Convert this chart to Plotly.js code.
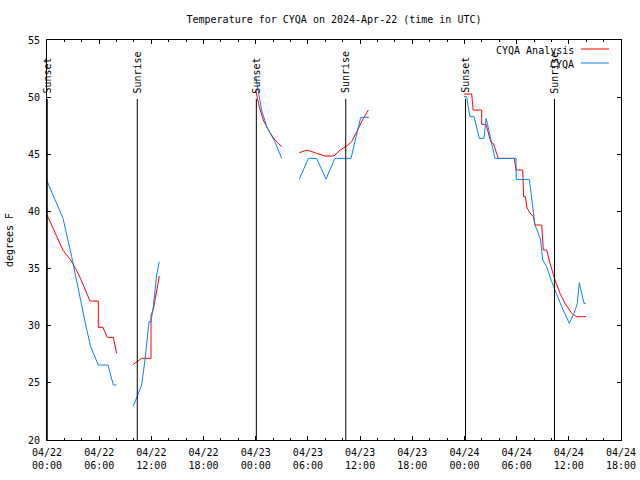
<!DOCTYPE html>
<html>
<head>
<meta charset="utf-8">
<script src="https://cdn.plot.ly/plotly-3.0.1.min.js"></script>
<style>
html,body{margin:0;padding:0;background:#fff;}
#chart{width:640px;height:480px;}
</style>
</head>
<body>
<div id="chart"></div>
<script>
// Hours since 2024-04-22 00:00 UTC; null separates gaps
const analysisHours = [0,0.8,1.84,2.72,3.3,3.87,4.45,4.94,5.9,5.9,6.44,6.93,7.63,7.78,8.0,null,
  9.93,10.4,10.88,11.96,11.96,12.22,12.5,12.73,12.91,null,
  24.0,24.4,24.87,25.45,26.2,26.6,26.99,null,
  29.0,29.93,31.01,31.97,33.0,33.69,34.46,35.03,35.61,36.37,36.95,null,
  47.95,48.83,48.95,49.0,49.98,49.98,50.48,50.74,51.02,51.32,51.51,51.89,53.73,53.93,54.7,54.8,55.0,55.2,55.5,55.92,56.11,56.88,57.07,57.46,57.84,58.41,58.99,59.56,60.33,60.91,61.98];
const analysisTemp = [39.7,38.4,36.6,35.75,35.0,34.1,33.1,32.16,32.16,29.86,29.86,28.98,28.98,28.46,27.58,null,
  26.62,26.9,27.15,27.15,30.94,31.37,32.54,33.7,34.35,null,
  50.6,49.2,48.0,47.12,46.25,45.96,45.66,null,
  45.14,45.37,45.08,44.85,44.85,45.37,45.72,46.1,46.97,48.14,48.87,null,
  50.27,50.27,49.31,48.87,48.87,47.62,47.62,46.84,46.1,45.96,45.52,44.64,44.64,43.62,43.62,41.3,41.3,40.3,39.9,39.54,38.81,38.81,36.62,36.62,35.46,34.0,32.83,31.96,31.08,30.79,30.79];

const obsHours = [0,0.9,1.84,2.84,3.49,4.45,5.02,5.9,7.01,7.32,7.63,8.0,null,
  9.93,10.5,10.88,11.27,11.57,11.73,11.96,12.22,12.61,12.91,null,
  24.0,24.68,25.26,26.2,26.99,null,
  29.0,30.05,31.0,32.08,33.1,34.95,36.07,37.02,null,
  47.95,48.26,48.45,48.64,49.1,49.4,49.71,50.25,50.48,50.63,50.86,51.13,51.32,51.51,53.93,53.95,55.46,55.73,55.92,56.11,56.49,56.76,56.99,57.46,58.03,58.41,59.18,60.06,60.6,60.98,61.2,61.48,61.75,61.98];
const obsTemp = [42.66,41.1,39.4,36.04,33.56,30.06,28.16,26.56,26.56,25.69,24.81,24.81,null,
  22.97,24.08,24.81,27.0,29.62,30.35,30.35,31.66,34.44,35.6,null,
  51.8,48.87,47.41,46.1,44.64,null,
  42.8,44.64,44.64,42.83,44.64,44.64,48.23,48.23,null,
  50.04,50.04,49.02,48.29,48.29,47.41,46.39,46.39,48.14,47.71,46.84,46.1,45.23,44.64,44.64,42.8,42.8,41.29,40.12,38.81,38.08,37.5,35.75,35.16,33.85,33.12,31.66,30.21,31.08,31.96,33.77,32.83,31.96,31.96];

const sunHours = [0.03, 10.38, 24.07, 34.35, 48.12, 58.35];
const sunLabels = ["Sunset","Sunrise","Sunset","Sunrise","Sunset","Sunrise"];

const xTickVals = [0,6,12,18,24,30,36,42,48,54,60,66];
const xTickText = ["04/22<br>00:00","04/22<br>06:00","04/22<br>12:00","04/22<br>18:00",
  "04/23<br>00:00","04/23<br>06:00","04/23<br>12:00","04/23<br>18:00",
  "04/24<br>00:00","04/24<br>06:00","04/24<br>12:00","04/24<br>18:00"];

const seriesNames = ["CYQA Analysis","CYQA"];
const seriesColors = ["#ff0000","#0a84f0"];

const FONT = {family:"DejaVu Sans Mono, Liberation Mono, monospace", size:10, color:"#000"};

const traces = [
  {x: analysisHours, y: analysisTemp, mode:"lines", name: seriesNames[0], connectgaps:false,
   line:{color: seriesColors[0], width:1}, showlegend:false, hoverinfo:"skip"},
  {x: obsHours, y: obsTemp, mode:"lines", name: seriesNames[1], connectgaps:false,
   line:{color: seriesColors[1], width:1}, showlegend:false, hoverinfo:"skip"}
];

const shapes = [];
const annotations = [];
sunHours.forEach((h,i)=>{
  shapes.push({type:"line", xref:"x", yref:"y", x0:h, x1:h, y0:20, y1:49.85,
    line:{color:"#000", width:1}});
  annotations.push({xref:"x", yref:"y", x:h, y:50.25, text:sunLabels[i], textangle:-90,
    showarrow:false, xanchor:"center", yanchor:"bottom", font:FONT, borderpad:0});
});
// legend drawn like the original (text left, sample on right)
seriesNames.forEach((n,i)=>{
  const yp = i===0 ? 0.9775 : 0.9425;
  shapes.push({type:"line", xref:"paper", yref:"paper", x0:0.9303, x1:0.9791, y0:yp, y1:yp,
    line:{color:seriesColors[i], width:1}});
  annotations.push({xref:"paper", yref:"paper", x:0.92, y:yp-0.004, text:n, showarrow:false,
    xanchor:"right", yanchor:"middle", font:FONT, borderpad:0});
});

const layout = {
  width:640, height:480,
  margin:{l:47, r:19, t:40, b:40, pad:0},
  paper_bgcolor:"#fff", plot_bgcolor:"#fff",
  font: FONT,
  title:{text:"Temperature for CYQA on 2024-Apr-22 (time in UTC)", font:FONT,
    x:0.5, xref:"paper", xanchor:"center", y:0.96, yref:"container", yanchor:"middle"},
  xaxis:{range:[0,66], tickmode:"array", tickvals:xTickVals, ticktext:xTickText,
    ticks:"inside", ticklen:4, tickcolor:"#000", tickwidth:1, ticklabelstandoff:3,
    showline:true, linecolor:"#000", linewidth:1, mirror:"ticks",
    showgrid:false, zeroline:false, tickfont:FONT, fixedrange:true,
    minor:{dtick:2, tick0:0, ticks:"inside", ticklen:2, tickcolor:"#000", tickwidth:1, showgrid:false}},
  yaxis:{range:[20,55], dtick:5, tick0:20,
    ticks:"inside", ticklen:4, tickcolor:"#000", tickwidth:1, ticklabelstandoff:4,
    showline:true, linecolor:"#000", linewidth:1, mirror:"ticks",
    showgrid:false, zeroline:false, tickfont:FONT, fixedrange:true,
    title:{text:"degrees F", font:FONT, standoff:12}},
  shapes: shapes,
  annotations: annotations,
  showlegend:false
};

Plotly.newPlot("chart", traces, layout, {staticPlot:true, displayModeBar:false});
</script>
</body>
</html>
